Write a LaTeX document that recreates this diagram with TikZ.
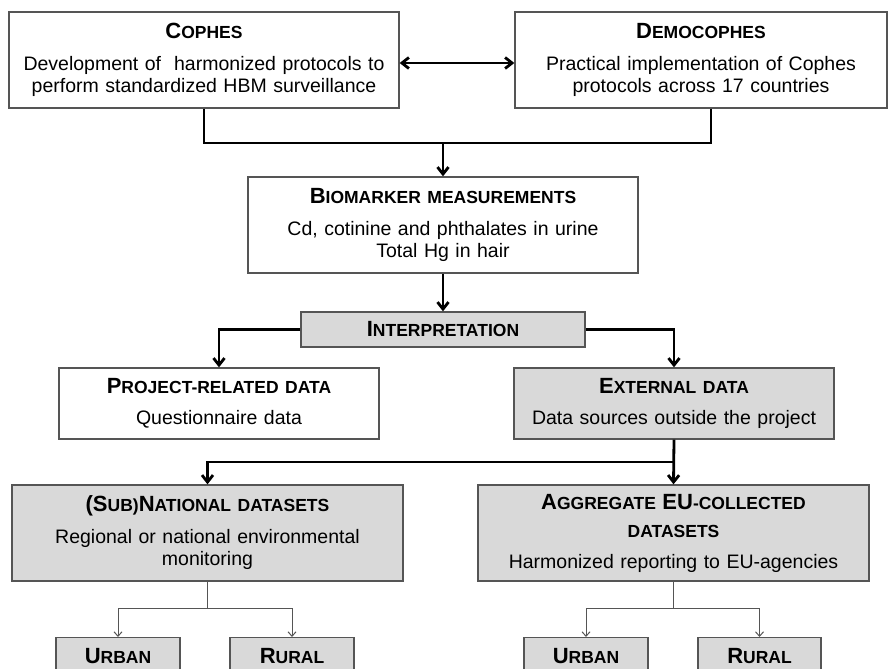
\documentclass[tikz,border=0pt]{standalone}
\usepackage{fontspec}
\setmainfont{Liberation Sans}
\usepackage{xcolor}
\usetikzlibrary{arrows.meta,calc,positioning}

\definecolor{boxgray}{HTML}{D9D9D9}
\definecolor{edgegray}{HTML}{555555}
% fake small caps: large initial, smaller rest
\newcommand{\capsbig}[1]{{\fontsize{22}{26}\selectfont #1}}
\newcommand{\capssmall}[1]{{\fontsize{17.5}{22}\selectfont #1}}
\newcommand{\tsc}[2]{\capsbig{#1}\capssmall{#2}}

\begin{document}
\begin{tikzpicture}[x=1pt, y=-1pt,
    box/.style={draw=edgegray, line width=1.3pt, align=center, inner sep=0pt,
      font=\fontsize{19.5}{22.5}\selectfont},
    shaded/.style={box, fill=boxgray},
    flow/.style={line width=2.8pt, -{Straight Barb[length=7pt,width=11pt]}},
    flowline/.style={line width=2.8pt},
    twoway/.style={line width=2.8pt, {Straight Barb[length=7pt,width=11pt]}-{Straight Barb[length=7pt,width=11pt]}},
    branch/.style={draw=edgegray, line width=1pt, -{Straight Barb[length=4.5pt,width=8pt]}},
    branchline/.style={draw=edgegray, line width=1pt}]
    \clip (0,0) rectangle (892,669);
    % the two projects
    \node[box, minimum width=390, minimum height=96, text width=385] (cophes) at (204,60)
      {{\bfseries\tsc{C}{OPHES}}\\[9pt]
       Development of\ \ harmonized protocols to\\perform standardized HBM surveillance};
    \node[box, minimum width=372, minimum height=96, text width=365] (democ) at (701,60)
      {{\bfseries\tsc{D}{EMOCOPHES}}\\[9pt]
       Practical implementation of Cophes\\protocols across 17 countries};
    \draw[twoway] ([yshift=-3pt]cophes.east) -- ([yshift=-3pt]democ.west);
    % measurements
    \node[box, minimum width=390, minimum height=96, text width=385] (bio) at (443,225)
      {{\bfseries\tsc{B}{IOMARKER MEASUREMENTS}}\\[9pt]
       Cd, cotinine and phthalates in urine\\Total Hg in hair};
    \coordinate (join) at (443,143);
    \draw[flowline] ([xshift=10pt]democ.south) |- (join);
    \draw[flow] (cophes.south) |- (join) -- (bio.north);
    \node[shaded, minimum width=284, minimum height=35] (interp) at (443,329.5)
      {\bfseries\tsc{I}{NTERPRETATION}};
    \draw[flow] (bio.south) -- (interp.north);
    % data used for interpretation
    \node[box, minimum width=320, minimum height=71, text width=315] (proj) at (219,403.5)
      {{\bfseries\tsc{P}{ROJECT-RELATED DATA}}\\[9pt]Questionnaire data};
    \node[shaded, minimum width=320, minimum height=71, text width=315] (ext) at (674,403.5)
      {{\bfseries\tsc{E}{XTERNAL DATA}}\\[9pt]Data sources outside the project};
    \draw[flow] (interp.west) -| (proj.north);
    \draw[flow] (interp.east) -| (ext.north);
    % external data sources
    \node[shaded, minimum width=391, minimum height=96, text width=385] (subnat) at (207.5,533)
      {{\bfseries\tsc{(S}{UB)}\tsc{N}{ATIONAL DATASETS}}\\[9pt]
       Regional or national environmental\\monitoring};
    \node[shaded, minimum width=391, minimum height=96, text width=385] (aggr) at (673.5,533)
      {{\bfseries\tsc{A}{GGREGATE }\tsc{EU}{-COLLECTED}}\\[6pt]
       {\bfseries\capssmall{DATASETS}}\\[8pt]
       Harmonized reporting to EU-agencies};
    \coordinate (split) at (674,462);
    \draw[flow] (ext.south) -- (aggr.north);
    \draw[flow] (split) -| (subnat.north);
    % urban / rural
    \node[shaded, anchor=north, minimum width=124, inner ysep=11pt] (urbanL) at (118,637)
      {\bfseries\tsc{U}{RBAN}};
    \node[shaded, anchor=north, minimum width=124, inner ysep=11pt] (ruralL) at (292,637)
      {\bfseries\tsc{R}{URAL}};
    \node[shaded, anchor=north, minimum width=124, inner ysep=11pt] (urbanR) at (586,637)
      {\bfseries\tsc{U}{RBAN}};
    \node[shaded, anchor=north, minimum width=123, inner ysep=11pt] (ruralR) at (759.5,637)
      {\bfseries\tsc{R}{URAL}};
    \draw[branchline] (subnat.south) -- ++(0,27) coordinate (forkL);
    \draw[branch] (forkL) -| (urbanL.north);
    \draw[branch] (forkL) -| (ruralL.north);
    \draw[branchline] (aggr.south) -- ++(0,27) coordinate (forkR);
    \draw[branch] (forkR) -| (urbanR.north);
    \draw[branch] (forkR) -| (ruralR.north);
\end{tikzpicture}
\end{document}
